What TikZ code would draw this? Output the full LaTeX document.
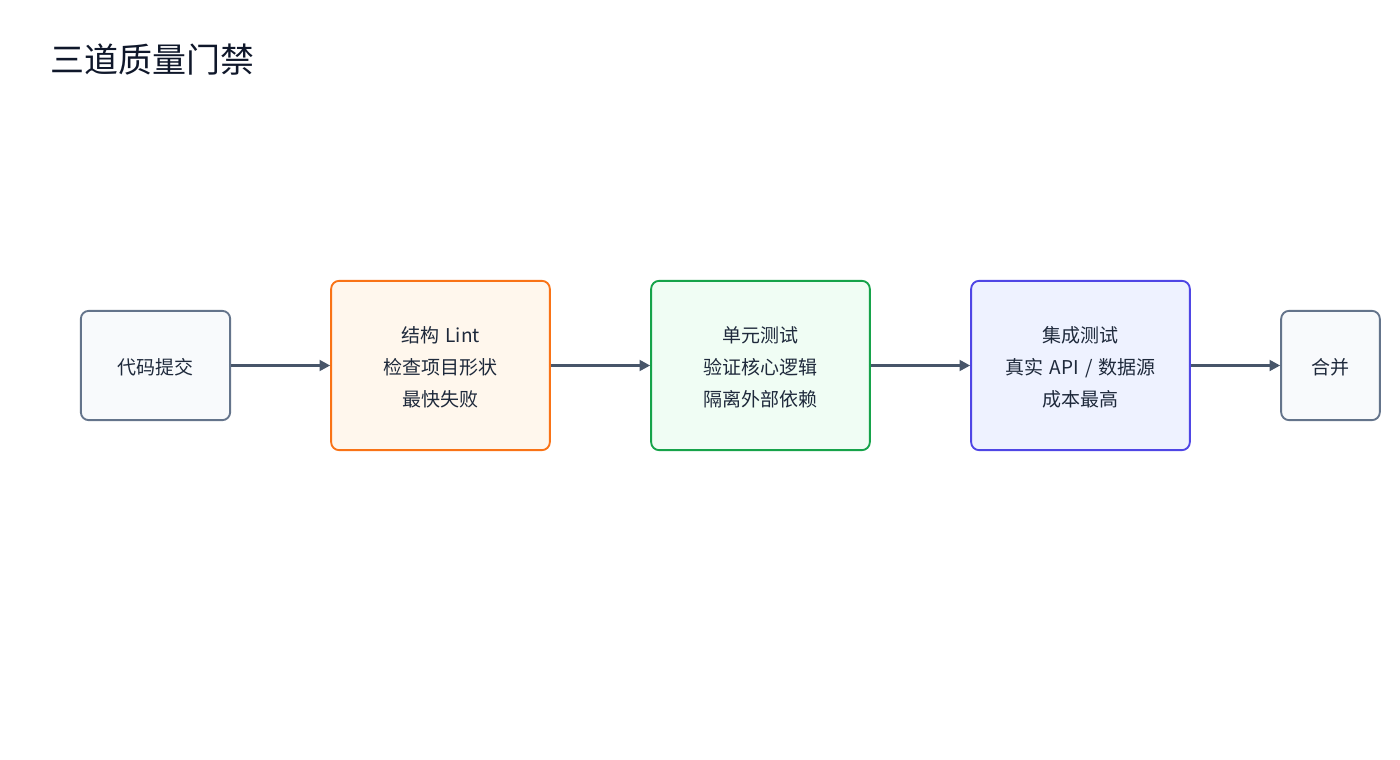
\documentclass[tikz,border=0pt]{standalone}
\usepackage{fontspec}
\setmainfont{Noto Sans CJK SC}
\usetikzlibrary{arrows.meta}
\definecolor{ink}{HTML}{1E293B}
\definecolor{titleink}{HTML}{0F172A}
\definecolor{arrowc}{HTML}{475569}
\definecolor{grayfill}{HTML}{F8FAFC}
\definecolor{graydraw}{HTML}{64748B}
\definecolor{orangefill}{HTML}{FFF7ED}
\definecolor{orangedraw}{HTML}{F97316}
\definecolor{greenfill}{HTML}{F0FDF4}
\definecolor{greendraw}{HTML}{16A34A}
\definecolor{bluefill}{HTML}{EEF2FF}
\definecolor{bluedraw}{HTML}{4F46E5}
\newcommand{\gap}{\hspace{1.6pt}}
\tikzset{
  box/.style={draw, rounded corners=6pt, line width=1.4pt, inner sep=0pt},
  smallbox/.style={box, minimum width=112pt, minimum height=82pt, fill=grayfill, draw=graydraw},
  bigbox/.style={box, minimum width=164pt, minimum height=127pt},
  txt/.style={align=center, text=ink, font=\fontsize{14.25pt}{24pt}\selectfont, inner sep=0pt},
  flow/.style={draw=arrowc, line width=2.2pt, -{Triangle[length=8pt,width=8pt]}}
}
\begin{document}
\begin{tikzpicture}[x=0.75pt,y=-0.75pt]
\useasboundingbox (0,0) rectangle (1400,760);
\node[anchor=base west, text=titleink, font=\fontsize{25.5pt}{30pt}\selectfont, inner sep=0pt] (title) at (50,72) {三道质量门禁};
\node[smallbox] (commit) at (155.5,365.5) {};
\node[bigbox, fill=orangefill, draw=orangedraw] (lint) at (440.5,365.5) {};
\node[bigbox, fill=greenfill, draw=greendraw] (unit) at (760.5,365.5) {};
\node[bigbox, fill=bluefill, draw=bluedraw] (integ) at (1080.5,365.5) {};
\node[smallbox, minimum width=74pt] (merge) at (1330.5,365.5) {};
\node[txt] (committ) at ([yshift=-1.5pt]commit.center) {代码提交};
\node[txt] (lintt) at ([yshift=-1.5pt]lint.center) {结构\gap{} Lint\\检查项目形状\\最快失败};
\node[txt] (unitt) at ([yshift=-1.5pt]unit.center) {单元测试\\验证核心逻辑\\隔离外部依赖};
\node[txt] (integt) at ([yshift=-1.5pt]integ.center) {集成测试\\真实\gap{} API\gap{} /\gap{} 数据源\\成本最高};
\node[txt] (merget) at ([yshift=-1.5pt]merge.center) {合并};
\draw[flow] (commit) -- (lint);
\draw[flow] (lint) -- (unit);
\draw[flow] (unit) -- (integ);
\draw[flow] (integ) -- (merge);
\end{tikzpicture}
\end{document}
